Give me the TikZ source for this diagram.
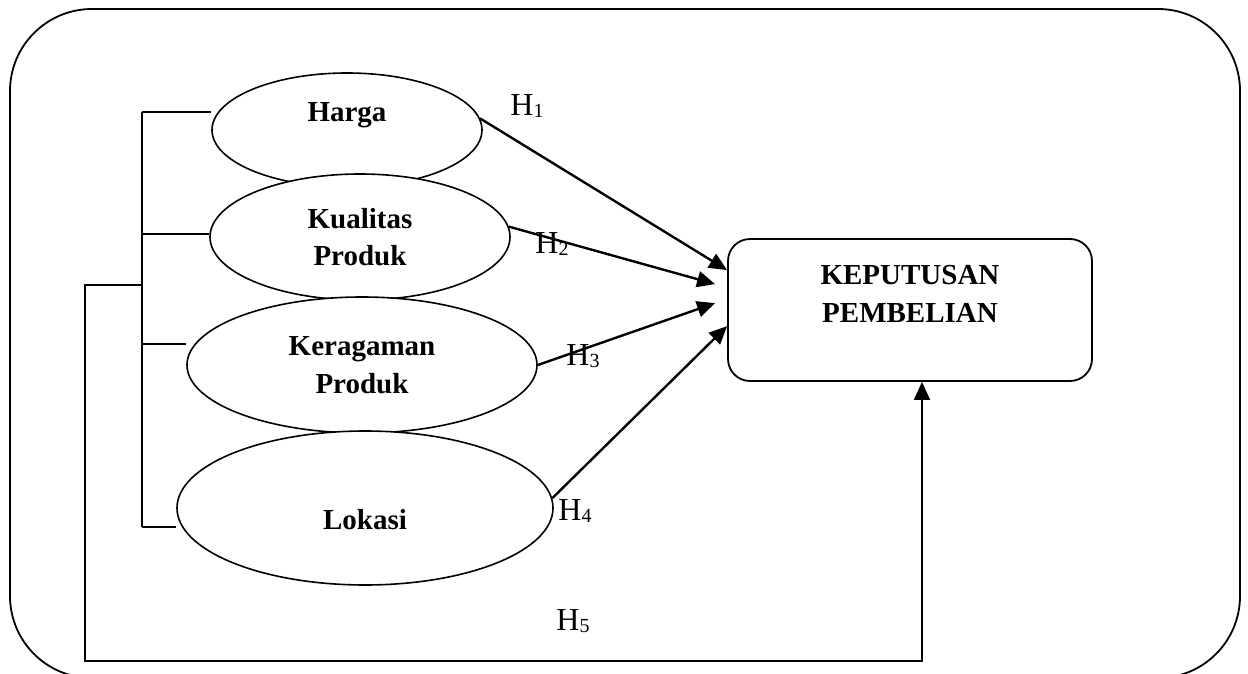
\documentclass[tikz,border=0pt]{standalone}
\usepackage{fontspec}
\setmainfont{Liberation Serif}
\usetikzlibrary{shapes.geometric,arrows.meta,calc}
\newcommand{\hlab}[1]{\fontsize{32}{36}\selectfont H\raisebox{-2.5pt}{\fontsize{20}{20}\selectfont #1}}
\begin{document}
\begin{tikzpicture}[x=1pt,y=-1pt,
  line width=1.6pt,
  bold/.style={font=\fontsize{29}{37.5}\selectfont\bfseries, align=center},
  var/.style={ellipse, draw, fill=white, inner sep=0pt, line width=1.6pt},
  hl/.style={inner sep=1pt},
  arr/.style={-{Triangle[length=18pt,width=16pt]}, line width=2.4pt}]
\clip (0,0) rectangle (1248,674);
% outer frame
\draw[rounded corners=82pt, line width=1.8pt] (10,9) rectangle (1240,678);
% variables
\node[var, minimum width=270pt, minimum height=114pt,
      label={[bold, yshift=15pt]center:Harga}] (harga) at (347,130) {};
\node[var, minimum width=300pt, minimum height=126pt,
      label={[bold]center:Kualitas\\Produk}] (kual) at (360,237) {};
\node[var, minimum width=350pt, minimum height=136pt,
      label={[bold]center:Keragaman\\Produk}] (ker) at (362,365) {};
\node[var, minimum width=376pt, minimum height=154pt,
      label={[bold, yshift=-12pt]center:Lokasi}] (lok) at (365,508) {};
% dependent
\node[draw, rounded corners=22pt, minimum width=364pt, minimum height=142pt, inner sep=0pt, line width=1.8pt,
      label={[bold, yshift=16pt]center:KEPUTUSAN\\PEMBELIAN}] (kp) at (910,310) {};
% bracket
\coordinate (b1) at (142,112);
\coordinate (b2) at (142,234);
\coordinate (b3) at (142,344);
\coordinate (b4) at (142,527);
\coordinate (h5s) at (142,285);
\draw (b1) -- (b4);
\draw (b1) -- (b1 -| harga.west);
\draw (b2) -- (b2 -| kual.west);
\draw (b3) -- (b3 -| ker.west);
\draw (b4) -- (b4 -| lok.west);
% arrows
\draw[arr] (harga.5) -- ($(kp.north west)+(0,32)$);
\draw[arr] (kual.4) -- ($(kp.north west)+(-12,46)$);
\draw[arr] (ker.east) -- ($(kp.north west)+(-12,65)$);
\draw[arr] (lok.3) -- ($(kp.north west)+(0,88)$);
\draw[arr, line width=1.8pt] (h5s) -| (85,661) -| ($(kp.south)+(12,0)$);
% labels
\node[hl] (l1) at (527,106) {\hlab{1}};
\node[hl] (l2) at (552,244) {\hlab{2}};
\node[hl] (l3) at (583,356) {\hlab{3}};
\node[hl] (l4) at (575,511) {\hlab{4}};
\node[hl] (l5) at (573,621) {\hlab{5}};
\end{tikzpicture}
\end{document}
